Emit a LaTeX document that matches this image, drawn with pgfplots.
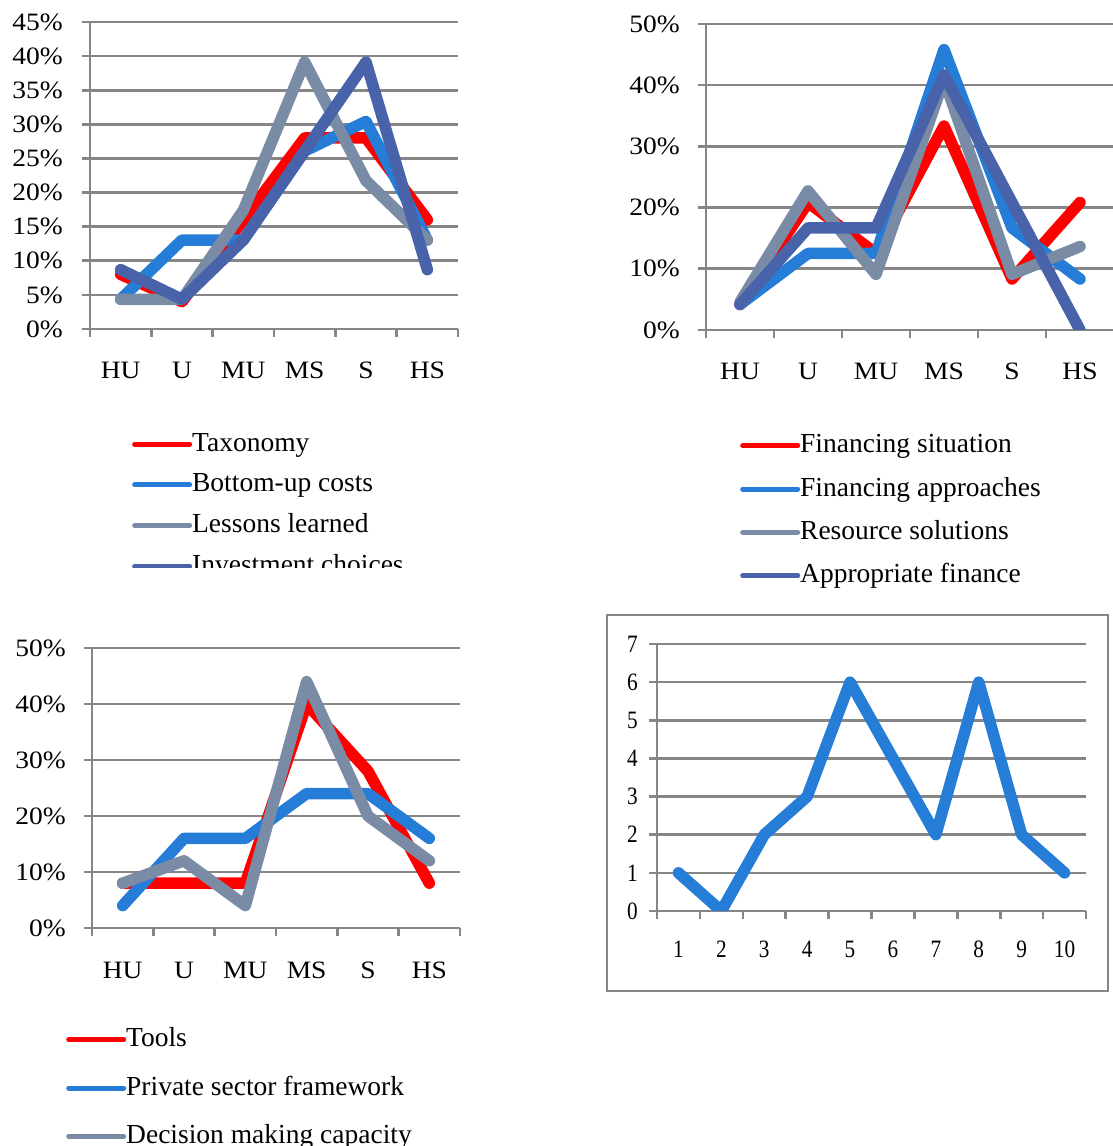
\documentclass[border=0pt]{standalone}
\usepackage{fontspec}
\setmainfont{Liberation Serif}
\newfontfamily\tickfont{Liberation Serif}[FakeStretch=1.1]
\newfontfamily\narrowfont{Liberation Serif}[FakeStretch=0.85]
\usepackage{pgfplots}
\pgfplotsset{compat=1.18}

\definecolor{sred}{RGB}{255,0,0}
\definecolor{sblue}{RGB}{37,125,215}
\definecolor{sgray}{RGB}{122,139,166}
\definecolor{sdark}{RGB}{72,99,170}
\definecolor{gridgray}{RGB}{134,134,134}

\pgfplotsset{
  excel/.style={
    scale only axis,
    axis x line*=bottom, axis y line*=left,
    axis line style={-, draw=gridgray, line width=2.6pt},
    ymajorgrids, grid style={draw=gridgray, line width=2.6pt},
    tick align=outside,
    major tick length=8pt, minor tick length=8pt,
    major x tick style={draw=none},
    minor x tick style={draw=gridgray, line width=2.6pt},
    ytick style={draw=gridgray, line width=2.6pt},
    /pgf/number format/assume math mode=true,
    tick label style={font=\tickfont\fontsize{25}{30}\selectfont},
    xticklabel style={anchor=base, yshift=-42pt},
    yticklabel style={anchor=east, inner sep=0pt},
    legend cell align=left,
    legend image code/.code={\draw[##1, line width=5pt, line cap=round] (0pt,0pt) -- (55pt,0pt);},
    legend style={draw=none, fill=none, inner sep=0pt, anchor=north west,
      font=\fontsize{27.5}{32}\selectfont,
      nodes={inner sep=0pt, text height=20pt, text depth=6pt},
      /tikz/every odd column/.append style={column sep=0pt}},
  },
  cat6/.style={
    xmin=0.5, xmax=6.5, xtick={1,...,6},
    xticklabels={HU,U,MU,MS,S,HS},
    minor xtick={0.5,1.5,...,6.5},
  },
  series/.style={line width=11.5pt, line join=round, line cap=round, mark=none},
}

\begin{document}
\begin{tikzpicture}
\useasboundingbox (0pt,0pt) rectangle (1112pt,1146pt);

% upper left: four sub-topics, share of answers per rating
\begin{scope}
\clip (0pt,578pt) rectangle (600pt,1146pt);
\begin{axis}[excel, cat6,
  at={(90pt,817pt)}, anchor=south west,
  width=368pt, height=307pt,
  ymin=0, ymax=45, ytick={0,5,...,45},
  yticklabel={\pgfmathprintnumber{\tick}\%},
  yticklabel style={xshift=-19pt},
  legend style={at={(axis description cs:0.114,-0.332)},
    row sep=14.7pt},
]
\addplot[series, sred]  coordinates {(1,8) (2,4) (3,16) (4,28) (5,28) (6,16)};
\addplot[series, sblue] coordinates {(1,4.35) (2,13.04) (3,13.04) (4,26.09) (5,30.43) (6,13.04)};
\addplot[series, sgray] coordinates {(1,4.35) (2,4.35) (3,17.39) (4,39.13) (5,21.74) (6,13.04)};
\addplot[series, sdark] coordinates {(1,8.70) (2,4.35) (3,13.04) (4,26.09) (5,39.13) (6,8.70)};
\legend{Taxonomy,Bottom-up costs,Lessons learned,Investment choices}
\end{axis}
\end{scope}

% upper right: financing
\begin{axis}[excel, cat6,
  at={(706pt,816pt)}, anchor=south west,
  width=408pt, height=306pt,
  ymin=0, ymax=50, ytick={0,10,...,50},
  yticklabel={\pgfmathprintnumber{\tick}\%},
  yticklabel style={xshift=-18pt},
  legend style={at={(axis description cs:0.0833,-0.335)},
    row sep=17.3pt},
]
\addplot[series, sred]  coordinates {(1,4.17) (2,20.83) (3,12.5) (4,33.33) (5,8.33) (6,20.83)};
\addplot[series, sblue] coordinates {(1,4.17) (2,12.5) (3,12.5) (4,45.83) (5,16.67) (6,8.33)};
\addplot[series, sgray] coordinates {(1,4.55) (2,22.73) (3,9.09) (4,40.91) (5,9.09) (6,13.64)};
\addplot[series, sdark] coordinates {(1,4.17) (2,16.67) (3,16.67) (4,41.67) (5,20.83) (6,0)};
\legend{Financing situation,Financing approaches,Resource solutions,Appropriate finance}
\end{axis}

% lower left: tools, framework, capacity
\begin{axis}[excel, cat6,
  at={(92pt,218pt)}, anchor=south west,
  width=368pt, height=280pt,
  ymin=0, ymax=50, ytick={0,10,...,50},
  yticklabel={\pgfmathprintnumber{\tick}\%},
  yticklabel style={xshift=-18pt},
  legend style={at={(axis description cs:-0.0707,-0.352)},
    row sep=22.3pt},
]
\addplot[series, sred]  coordinates {(1,8) (2,8) (3,8) (4,40) (5,28) (6,8)};
\addplot[series, sblue] coordinates {(1,4) (2,16) (3,16) (4,24) (5,24) (6,16)};
\addplot[series, sgray] coordinates {(1,8) (2,12) (3,4) (4,44) (5,20) (6,12)};
\legend{Tools,Private sector framework,Decision making capacity}
\end{axis}

% lower right: counts per item
\draw[gridgray, line width=1.5pt] (607pt,155pt) rectangle (1108pt,531pt);
\begin{axis}[excel,
  at={(657pt,235pt)}, anchor=south west,
  width=429pt, height=267pt,
  xmin=0.5, xmax=10.5, xtick={1,...,10},
  minor xtick={0.5,1.5,...,10.5},
  ymin=0, ymax=7, ytick={0,...,7},
  tick label style={font=\narrowfont\fontsize{25}{30}\selectfont},
  yticklabel style={xshift=-11pt},
  xticklabel style={yshift=3pt},
]
\addplot[series, sblue] coordinates {(1,1) (2,0) (3,2) (4,3) (5,6) (6,4) (7,2) (8,6) (9,2) (10,1)};
\end{axis}
\end{tikzpicture}
\end{document}
